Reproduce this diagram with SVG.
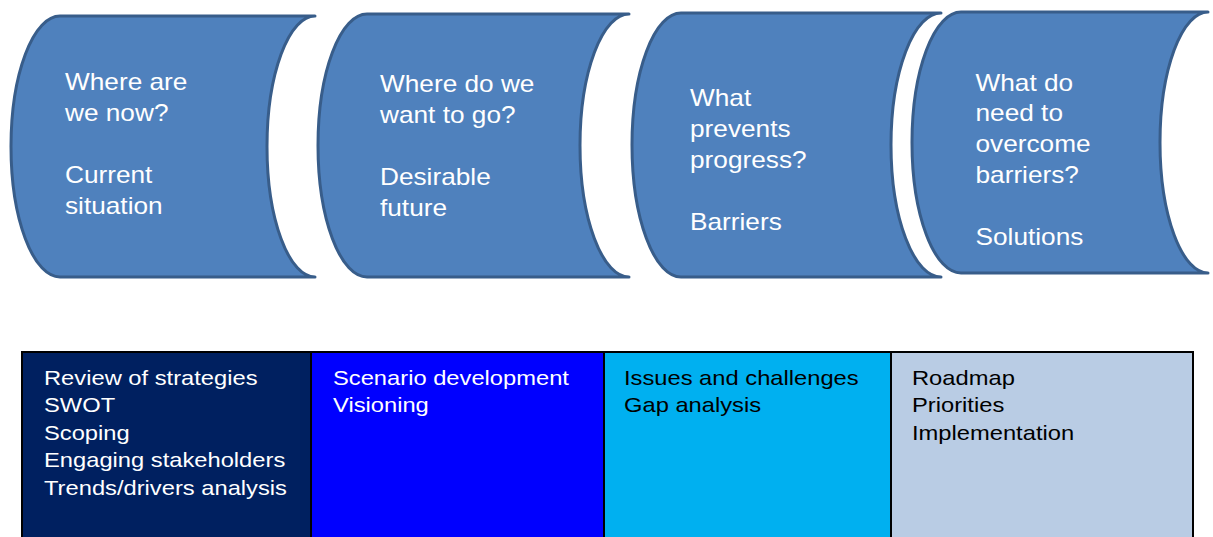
<svg xmlns="http://www.w3.org/2000/svg" width="1213" height="537" viewBox="0 0 1213 537">
<style>
.drum{fill:#4f81bd;stroke:#385d8a;stroke-width:3;stroke-linejoin:round}
.tt{font-family:"Liberation Sans",Arial,sans-serif;font-size:23px;fill:#ffffff}
.bt{font-family:"Liberation Sans",Arial,sans-serif;font-size:21px}
.box{stroke:#000000;stroke-width:2}
</style>
<rect width="1213" height="537" fill="#ffffff"/>
<g id="node-current">
<path class="drum" d="M60 16 H315 A48 130.5 0 0 0 315 277 H60 A49 130.5 0 0 1 60 16 Z"/>
<text class="tt" transform="translate(65 0) scale(1.14 1)"><tspan x="0" y="90.5">Where are</tspan><tspan x="0" y="121.3">we now?</tspan><tspan x="0" y="183">Current</tspan><tspan x="0" y="213.8">situation</tspan></text>
</g>
<g id="node-future">
<path class="drum" d="M367 14 H629 A49 131.5 0 0 0 629 277 H367 A49 131.5 0 0 1 367 14 Z"/>
<text class="tt" transform="translate(380 0) scale(1.14 1)"><tspan x="0" y="92.5">Where do we</tspan><tspan x="0" y="123.3">want to go?</tspan><tspan x="0" y="185">Desirable</tspan><tspan x="0" y="215.8">future</tspan></text>
</g>
<g id="node-barriers">
<path class="drum" d="M681 13 H941 A50 132 0 0 0 941 277 H681 A49 132 0 0 1 681 13 Z"/>
<text class="tt" transform="translate(690 0) scale(1.14 1)"><tspan x="0" y="106.5">What</tspan><tspan x="0" y="137.3">prevents</tspan><tspan x="0" y="168.1">progress?</tspan><tspan x="0" y="229.7">Barriers</tspan></text>
</g>
<g id="node-solutions">
<path class="drum" d="M961 12 H1208 A48 130.5 0 0 0 1208 273 H961 A49 130.5 0 0 1 961 12 Z"/>
<text class="tt" transform="translate(975.5 0) scale(1.14 1)"><tspan x="0" y="90.7">What do</tspan><tspan x="0" y="121.5">need to</tspan><tspan x="0" y="152.3">overcome</tspan><tspan x="0" y="183.1">barriers?</tspan><tspan x="0" y="244.7">Solutions</tspan></text>
</g>
<g id="connectors"></g>
<g id="box-current">
<rect class="box" x="22" y="352" width="289" height="190" fill="#002060"/>
<text class="bt" fill="#ffffff" transform="translate(44 0) scale(1.13 1)"><tspan x="0" y="385">Review of strategies</tspan><tspan x="0" y="412.5">SWOT</tspan><tspan x="0" y="440">Scoping</tspan><tspan x="0" y="467.5">Engaging stakeholders</tspan><tspan x="0" y="495">Trends/drivers analysis</tspan></text>
</g>
<g id="box-future">
<rect class="box" x="311" y="352" width="293" height="190" fill="#0000ff"/>
<text class="bt" fill="#ffffff" transform="translate(333 0) scale(1.13 1)"><tspan x="0" y="385">Scenario development</tspan><tspan x="0" y="412.5">Visioning</tspan></text>
</g>
<g id="box-barriers">
<rect class="box" x="604" y="352" width="287" height="190" fill="#00b0f0"/>
<text class="bt" fill="#000000" transform="translate(624 0) scale(1.13 1)"><tspan x="0" y="385">Issues and challenges</tspan><tspan x="0" y="412.5">Gap analysis</tspan></text>
</g>
<g id="box-solutions">
<rect class="box" x="891" y="352" width="302" height="190" fill="#b9cce4"/>
<text class="bt" fill="#000000" transform="translate(912 0) scale(1.13 1)"><tspan x="0" y="385">Roadmap</tspan><tspan x="0" y="412.5">Priorities</tspan><tspan x="0" y="440">Implementation</tspan></text>
</g>
</svg>
